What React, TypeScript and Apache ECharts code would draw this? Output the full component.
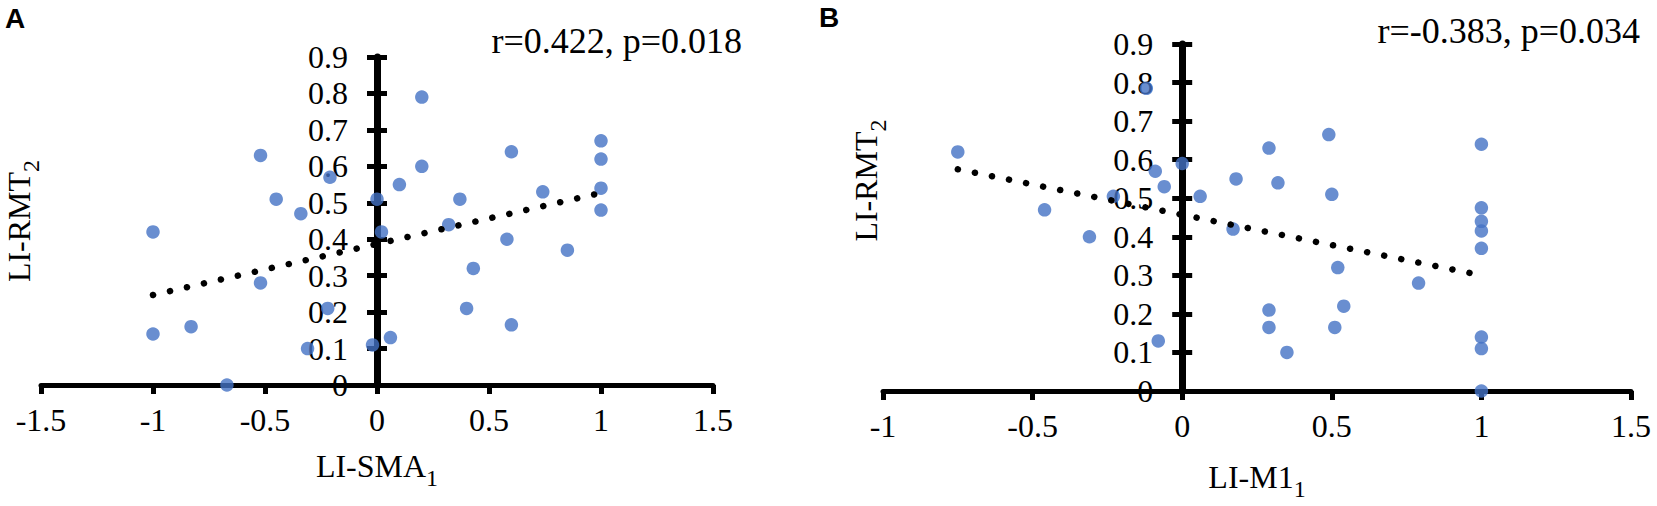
import React, { useEffect, useRef } from "react";
import * as echarts from "echarts";

// Panel A: LI-SMA1 vs LI-RMT2
const panelAX = [-0.52, -0.21, -0.45, -0.34, -1, 0, 0.02, 0.1, 0.2, 0.2, -1, -0.83, -0.52, -0.22, -0.31, -0.67, -0.02, 0.06, 0.6, 1, 1, 1, 1, 0.74, 0.37, 0.32, 0.58, 0.85, 0.43, 0.4, 0.6];
const panelAY = [0.63, 0.57, 0.51, 0.47, 0.42, 0.51, 0.42, 0.55, 0.79, 0.6, 0.14, 0.16, 0.28, 0.21, 0.1, 0.0, 0.11, 0.13, 0.64, 0.67, 0.62, 0.54, 0.48, 0.53, 0.51, 0.44, 0.4, 0.37, 0.32, 0.21, 0.165];
const trendA = [[-1, 0.247], [1, 0.527]];
const statsA = "r=0.422, p=0.018";

// Panel B: LI-M11 vs LI-RMT2
const panelBX = [-0.12, -0.75, -0.09, 0, -0.06, -0.23, 0.06, -0.46, -0.31, -0.08, 0.49, 0.29, 1, 0.18, 0.32, 0.5, 0.17, 1, 1, 1, 1, 0.52, 0.79, 0.54, 0.29, 0.29, 0.51, 0.35, 1, 1, 1];
const panelBY = [0.785, 0.62, 0.57, 0.59, 0.53, 0.505, 0.505, 0.47, 0.4, 0.13, 0.665, 0.63, 0.64, 0.55, 0.54, 0.51, 0.42, 0.475, 0.44, 0.415, 0.37, 0.32, 0.28, 0.22, 0.21, 0.165, 0.165, 0.1, 0.14, 0.11, 0.0];
const trendB = [[-0.75, 0.575], [1, 0.3]];
const statsB = "r=-0.383, p=0.034";

const xRangeA = [-1.5, 1.5];
const xRangeB = [-1, 1.5];
const yRange = [0, 0.9];

const SERIF = '"Liberation Serif", "Times New Roman", serif';
const SANS = '"Liberation Sans", Arial, sans-serif';
const BLUE = "#4472C4";

const gridA = { left: 41, top: 57, width: 672, height: 328 };
const gridB = { left: 883, top: 44, width: 748, height: 347 };

const nameRich = {
  m: { fontSize: 32, fontFamily: SERIF, color: "#000", lineHeight: 48 },
  s: { fontSize: 24, fontFamily: SERIF, color: "#000", lineHeight: 48, verticalAlign: "bottom" },
};

function xAxisCfg(grid: number, range: number[], name: string, nameGap: number) {
  return {
    gridIndex: grid,
    type: "value",
    min: range[0],
    max: range[1],
    interval: 0.5,
    splitLine: { show: false },
    axisLine: { onZero: false, lineStyle: { color: "#000", width: 5 } },
    axisTick: { show: true, length: 9, lineStyle: { color: "#000", width: 5 } },
    axisLabel: { margin: 19, fontSize: 32, fontFamily: SERIF, color: "#000", hideOverlap: false },
    name,
    nameLocation: "middle",
    nameGap,
    nameMoveOverlap: false,
    nameTextStyle: { rich: nameRich },
  };
}

// the vertical axis crosses the horizontal one at x = 0: shift it there from the grid's left edge
function zeroOffset(range: number[], width: number) {
  return -((0 - range[0]) / (range[1] - range[0])) * width;
}

function yAxisCfg(grid: number, offset: number, name: string, nameGap: number, shift: number) {
  const base = {
    gridIndex: grid,
    type: "value",
    position: "left",
    offset,
    min: yRange[0],
    max: yRange[1],
    interval: 0.1,
    splitLine: { show: false },
  };
  return [
    {
      ...base,
      axisLine: { onZero: false, lineStyle: { color: "#000", width: 7 } },
      axisTick: { show: true, length: 10, lineStyle: { color: "#000", width: 5 } },
      axisLabel: { margin: 29, fontSize: 32, fontFamily: SERIF, color: "#000", hideOverlap: false },
      name,
      nameLocation: "middle",
      nameRotate: 90,
      nameGap,
      nameMoveOverlap: false,
      nameTextStyle: { rich: nameRich, padding: [0, 0, 0, shift] },
    },
    {
      ...base,
      axisLine: { show: false, onZero: false },
      axisTick: { show: true, inside: true, length: 10, lineStyle: { color: "#000", width: 5 } },
      axisLabel: { show: false },
    },
  ];
}

function toPairs(xs: number[], ys: number[]) {
  return xs.map((x, i) => [x, ys[i]]);
}

export default function App() {
  const ref = useRef<HTMLDivElement>(null);
  useEffect(() => {
    if (!ref.current) return;
    const chart = echarts.init(ref.current, undefined, { renderer: "svg" });
    const trendStyle = { color: "#000", width: 6.5, type: [0.1, 17.3], cap: "round" };
    chart.setOption({
      animation: false,
      backgroundColor: "#fff",
      grid: [
        { ...gridA, containLabel: false, outerBoundsMode: "none" },
        { ...gridB, containLabel: false, outerBoundsMode: "none" },
      ],
      xAxis: [
        xAxisCfg(0, xRangeA, "{m|LI-SMA}{s|1}", 57),
        xAxisCfg(1, xRangeB, "{m|LI-M1}{s|1}", 62),
      ],
      yAxis: [
        ...yAxisCfg(0, zeroOffset(xRangeA, gridA.width), "{m|LI-RMT}{s|2}", 334, 0),
        ...yAxisCfg(1, zeroOffset(xRangeB, gridB.width), "{m|LI-RMT}{s|2}", 292, 74),
      ],
      series: [
        {
          type: "scatter",
          xAxisIndex: 0,
          yAxisIndex: 0,
          data: toPairs(panelAX, panelAY),
          symbolSize: 13.5,
          itemStyle: { color: BLUE },
          clip: false,
        },
        {
          type: "line",
          xAxisIndex: 0,
          yAxisIndex: 0,
          data: trendA,
          showSymbol: false,
          symbol: "none",
          lineStyle: trendStyle,
          clip: false,
        },
        {
          type: "scatter",
          xAxisIndex: 1,
          yAxisIndex: 2,
          data: toPairs(panelBX, panelBY),
          symbolSize: 13.5,
          itemStyle: { color: BLUE },
          clip: false,
        },
        {
          type: "line",
          xAxisIndex: 1,
          yAxisIndex: 2,
          data: trendB,
          showSymbol: false,
          symbol: "none",
          lineStyle: trendStyle,
          clip: false,
        },
      ],
      graphic: [
        { type: "text", x: 5, y: 4, style: { text: "A", fontSize: 28, fontWeight: "bold", fontFamily: SANS, fill: "#000" } },
        { type: "text", x: 819, y: 3, style: { text: "B", fontSize: 28, fontWeight: "bold", fontFamily: SANS, fill: "#000" } },
        { type: "text", x: 742, y: 41, style: { text: statsA, fontSize: 36, fontFamily: SERIF, fill: "#000", align: "right", verticalAlign: "middle" } },
        { type: "text", x: 1640, y: 31, style: { text: statsB, fontSize: 36, fontFamily: SERIF, fill: "#000", align: "right", verticalAlign: "middle" } },
      ],
    });
    return () => chart.dispose();
  }, []);
  return <div ref={ref} style={{ position: "fixed", left: 0, top: 0, width: 1657, height: 506 }} />;
}
